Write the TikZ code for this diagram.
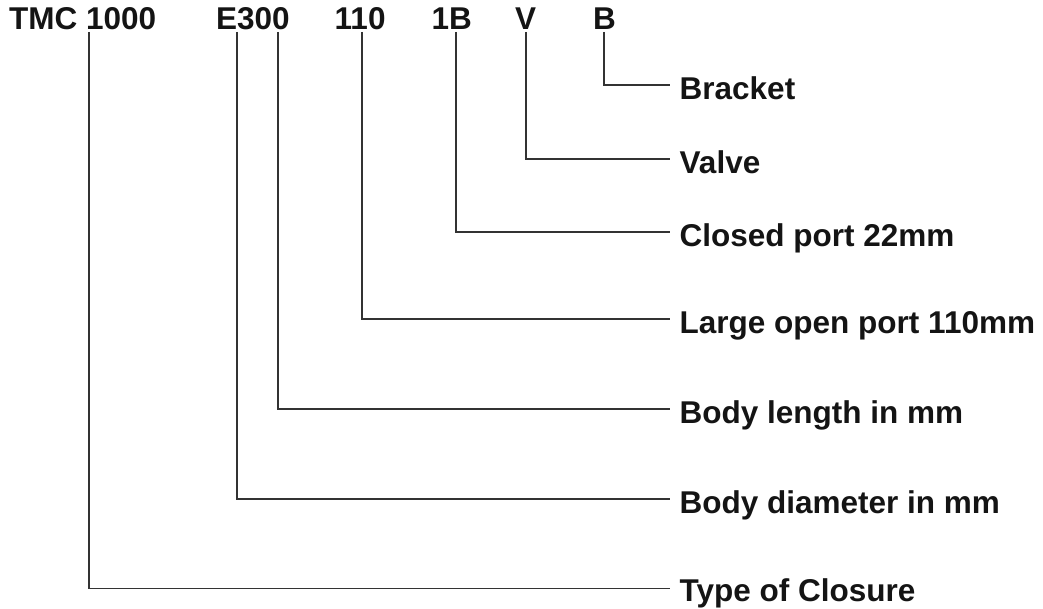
\documentclass[tikz,border=0pt]{standalone}
\usepackage{fontspec}
\setmainfont{Liberation Sans}
\begin{document}
\begin{tikzpicture}[x=1pt,y=-1pt,
  txt/.style={font=\fontsize{31.5}{36}\selectfont\bfseries, inner sep=0pt, anchor=base west, text=black!92},
  conn/.style={draw=black!80, line width=1.3pt}]
\useasboundingbox (0,0) rectangle (1043,609);
% code tokens
\node[txt] (tmc)  at (9,30)     {TMC 1000};
\node[txt] (e300) at (216,30)   {E300};
\node[txt] (p110) at (334.5,30) {110};
\node[txt] (p1b)  at (431.5,30) {1B};
\node[txt] (pv)   at (515,30)   {V};
\node[txt] (pb)   at (593,30)   {B};
% connector starts
\coordinate (s1) at (89,32);
\coordinate (s2) at (237,32);
\coordinate (s3) at (278,32);
\coordinate (s4) at (362,32);
\coordinate (s5) at (456,32);
\coordinate (s6) at (526,32);
\coordinate (s7) at (604,32);
% labels
\node[txt] (lbr) at (679.5,99.5)  {Bracket};
\node[txt] (lva) at (679.5,173.5) {Valve};
\node[txt] (lcp) at (679.5,246.5) {Closed port 22mm};
\node[txt] (llo) at (679.5,333.5) {Large open port 110mm};
\node[txt] (lbl) at (679.5,423.5) {Body length in mm};
\node[txt] (lbd) at (679.5,513.5) {Body diameter in mm};
\node[txt] (lty) at (679.5,601.5) {Type of Closure};
% connectors
\draw[conn] (s7) |- ([shift={(-9.5pt,14.5pt)}]lbr.base west);
\draw[conn] (s6) |- ([shift={(-9.5pt,14.5pt)}]lva.base west);
\draw[conn] (s5) |- ([shift={(-9.5pt,14.5pt)}]lcp.base west);
\draw[conn] (s4) |- ([shift={(-9.5pt,14.5pt)}]llo.base west);
\draw[conn] (s3) |- ([shift={(-9.5pt,14.5pt)}]lbl.base west);
\draw[conn] (s2) |- ([shift={(-9.5pt,14.5pt)}]lbd.base west);
\draw[conn] (s1) |- ([shift={(-9.5pt,13pt)}]lty.base west);
\end{tikzpicture}
\end{document}
